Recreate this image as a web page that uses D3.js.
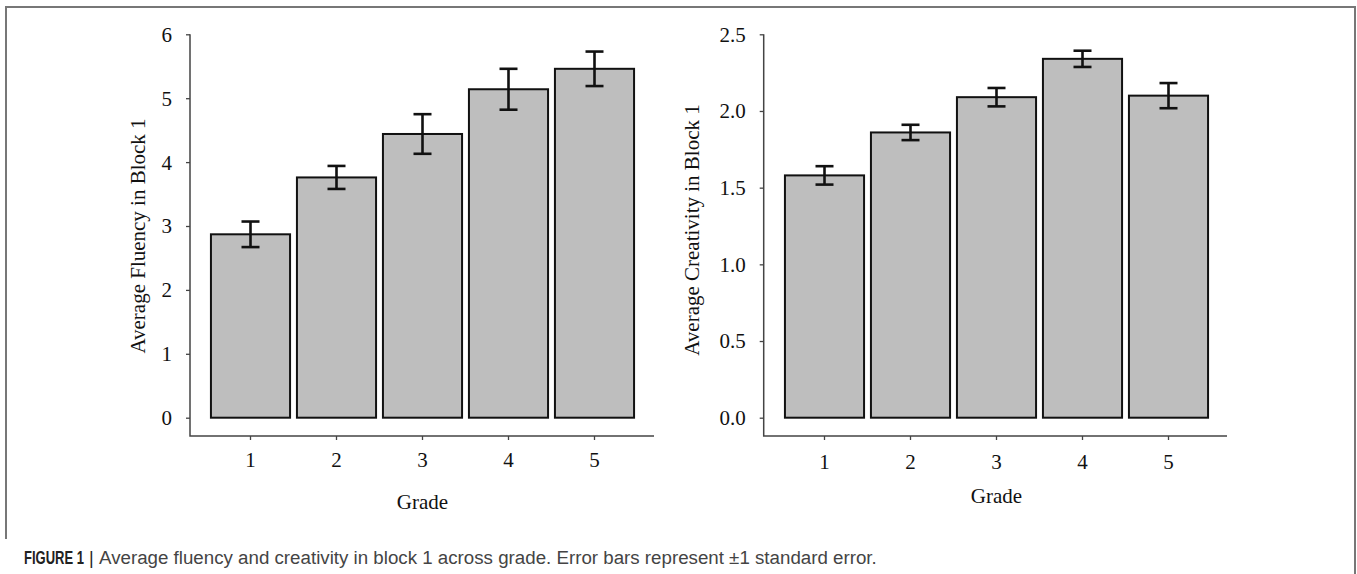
<!DOCTYPE html>
<html>
  <head>
    <title>Fluency and creativity by grade</title>
    <script src="https://d3js.org/d3.v7.min.js"></script>
    <style>
      body { margin: 0; background: #fff; }
    </style>
  </head>
  <body>
    <svg width="1357" height="574"></svg>
    <script>
      const grades = ["1", "2", "3", "4", "5"];
      const fluencyMean = [2.87, 3.76, 4.44, 5.14, 5.46];
      const fluencySE = [0.2, 0.18, 0.31, 0.32, 0.27];
      const creativityMean = [1.58, 1.86, 2.09, 2.34, 2.1];
      const creativitySE = [0.06, 0.05, 0.06, 0.053, 0.082];
      const fluencyTicks = [0, 1, 2, 3, 4, 5, 6];
      const creativityTicks = [0, 0.5, 1, 1.5, 2, 2.5];

      const serif = "'Liberation Serif', 'Times New Roman', serif";

      function barPanel(selection, props){
        const { means, ses, yMax, ticks, tickFormat, axisX, axisRight, bandRange,
                yLabel, yLabelX, yLabelY, tickLabelY, gradeY } = props;
        const yTop = 34.3, yBottom = 417.7, xAxisY = 436;

        const xScale = d3.scaleBand()
          .domain(grades)
          .range(bandRange)
          .paddingInner(0.08)
          .paddingOuter(0.04);
        const yScale = d3.scaleLinear()
          .domain([0, yMax])
          .range([yBottom, yTop]);

        const data = grades.map((g, i) => ({ grade: g, mean: means[i], se: ses[i] }));

        // L shaped frame
        selection.append("path")
          .attr("d", `M${axisX},${yTop}V${xAxisY}H${axisRight}`)
          .attr("fill", "none")
          .attr("stroke", "#444")
          .attr("stroke-width", 1.5);

        // y axis ticks and labels
        const yAxis = d3.axisLeft(yScale)
          .tickValues(ticks)
          .tickFormat(tickFormat)
          .tickSize(4)
          .tickPadding(14);
        const gy = selection.append("g")
          .attr("transform", `translate(${axisX},0)`)
          .call(yAxis);
        gy.select(".domain").remove();
        gy.selectAll("line").attr("stroke", "#444").attr("stroke-width", 1.3);
        gy.selectAll("text")
          .attr("font-family", serif)
          .attr("font-size", 21)
          .attr("fill", "#111")
          .attr("dy", "0.33em");

        // x axis ticks and labels
        const xAxis = d3.axisBottom(xScale).tickSize(4).tickPadding(0);
        const gx = selection.append("g")
          .attr("transform", `translate(0,${xAxisY})`)
          .call(xAxis);
        gx.select(".domain").remove();
        gx.selectAll("line").attr("stroke", "#444").attr("stroke-width", 1.3);
        gx.selectAll("text")
          .attr("font-family", serif)
          .attr("font-size", 21)
          .attr("fill", "#111")
          .attr("y", tickLabelY - xAxisY)
          .attr("dy", null);

        // bars
        selection.append("g").selectAll("rect")
          .data(data)
          .join("rect")
            .attr("x", d => xScale(d.grade))
            .attr("y", d => yScale(d.mean))
            .attr("width", xScale.bandwidth())
            .attr("height", d => yScale(0) - yScale(d.mean))
            .attr("fill", "#bebebe")
            .attr("stroke", "#111")
            .attr("stroke-width", 2);

        // error bars
        const capHalf = 9;
        const err = selection.append("g")
          .attr("stroke", "#111")
          .attr("stroke-width", 2.6)
          .selectAll("g")
          .data(data)
          .join("g")
            .attr("transform", d => `translate(${xScale(d.grade) + xScale.bandwidth() / 2},0)`);
        err.append("line")
          .attr("y1", d => yScale(d.mean + d.se))
          .attr("y2", d => yScale(d.mean - d.se));
        err.append("line")
          .attr("x1", -capHalf).attr("x2", capHalf)
          .attr("y1", d => yScale(d.mean + d.se))
          .attr("y2", d => yScale(d.mean + d.se));
        err.append("line")
          .attr("x1", -capHalf).attr("x2", capHalf)
          .attr("y1", d => yScale(d.mean - d.se))
          .attr("y2", d => yScale(d.mean - d.se));

        // titles
        selection.append("text")
          .attr("transform", `translate(${yLabelX},${yLabelY}) rotate(-90)`)
          .attr("text-anchor", "middle")
          .attr("font-family", serif)
          .attr("font-size", 21)
          .attr("fill", "#111")
          .text(yLabel);
        selection.append("text")
          .attr("x", (bandRange[0] + bandRange[1]) / 2)
          .attr("y", gradeY)
          .attr("text-anchor", "middle")
          .attr("font-family", serif)
          .attr("font-size", 21)
          .attr("fill", "#111")
          .text("Grade");
      }

      // condensed caption text: squeeze horizontally to a given width
      function squeezed(parent, x, y, width, str){
        const t = parent.append("text").text(str);
        const w = t.node().getComputedTextLength();
        t.attr("transform", `translate(${x},${y}) scale(${width / w},1)`);
        return t;
      }

      function main(){
        const svg = d3.select("svg");

        // figure frame
        svg.append("path")
          .attr("d", "M6,539V7H1355V574")
          .attr("fill", "none")
          .attr("stroke", "#777")
          .attr("stroke-width", 2);

        svg.append("g").call(barPanel, {
          means: fluencyMean,
          ses: fluencySE,
          yMax: 6,
          ticks: fluencyTicks,
          tickFormat: d3.format("d"),
          axisX: 190,
          axisRight: 654,
          bandRange: [207.5, 637.5],
          yLabel: "Average Fluency in Block 1",
          yLabelX: 145,
          yLabelY: 236,
          tickLabelY: 467,
          gradeY: 509
        });

        svg.append("g").call(barPanel, {
          means: creativityMean,
          ses: creativitySE,
          yMax: 2.5,
          ticks: creativityTicks,
          tickFormat: d3.format(".1f"),
          axisX: 763.7,
          axisRight: 1227,
          bandRange: [781.5, 1211.5],
          yLabel: "Average Creativity in Block 1",
          yLabelX: 699,
          yLabelY: 230,
          tickLabelY: 469,
          gradeY: 503
        });

        // caption
        const cap = svg.append("g")
          .attr("font-family", "'Liberation Sans', Arial, sans-serif")
          .attr("font-size", 18);
        squeezed(cap, 24, 564, 60, "FIGURE 1")
          .attr("font-weight", "bold")
          .attr("fill", "#222");
        cap.append("text")
          .attr("x", 89).attr("y", 564)
          .attr("fill", "#222")
          .text("|");
        squeezed(cap, 99, 564, 778,
            "Average fluency and creativity in block 1 across grade. Error bars represent \u00b11 standard error.")
          .attr("fill", "#444");
      }
      main();
    </script>
  </body>
</html>
